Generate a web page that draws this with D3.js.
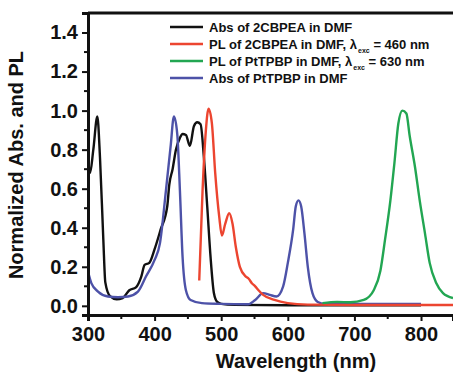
<!DOCTYPE html>
<html>
<head>
<meta charset="utf-8">
<script src="https://cdn.jsdelivr.net/npm/d3@7"></script>
<style>
  body { margin: 0; background: #fff; }
  text { font-family: "Liberation Sans", Arial, sans-serif; font-weight: bold; fill: #111; }
</style>
</head>
<body>
<div id="chart"></div>
<script>
// Abs of 2CBPEA in DMF (black)
const absCbpeaX = [300, 303, 308, 314, 318, 323, 326, 333, 343, 352, 362, 372, 380, 385, 392, 400, 409, 419, 422, 427, 432, 438, 442, 447, 453, 459, 464, 469, 474, 479, 484, 489, 494, 500, 520, 600, 700, 800]
const absCbpeaY = [0.72, 0.68, 0.80, 0.97, 0.76, 0.34, 0.12, 0.05, 0.034, 0.04, 0.08, 0.095, 0.15, 0.21, 0.22, 0.29, 0.39, 0.51, 0.62, 0.70, 0.80, 0.86, 0.88, 0.875, 0.82, 0.92, 0.94, 0.93, 0.76, 0.51, 0.25, 0.066, 0.02, 0.01, 0.005, 0.003, 0.003, 0.003]

// PL of 2CBPEA in DMF (red)
const plCbpeaX = [467, 472, 477, 481, 486, 491, 497, 501, 506, 512, 517, 522, 528, 537, 541, 546, 551, 556, 563, 580, 600, 630, 700, 848]
const plCbpeaY = [0.13, 0.59, 0.90, 1.01, 0.935, 0.68, 0.457, 0.36, 0.42, 0.474, 0.42, 0.30, 0.20, 0.15, 0.14, 0.116, 0.10, 0.08, 0.056, 0.03, 0.014, 0.006, 0.004, 0.004]

// PL of PtTPBP in DMF (green)
const plTpbpX = [652, 674, 694, 714, 729, 739, 746, 754, 760, 766, 772, 778, 783, 791, 798, 806, 813, 823, 833, 848]
const plTpbpY = [0.014, 0.02, 0.018, 0.03, 0.08, 0.18, 0.34, 0.54, 0.73, 0.935, 1.0, 0.985, 0.87, 0.71, 0.54, 0.37, 0.22, 0.116, 0.065, 0.04]

// Abs of PtTPBP in DMF (blue)
const absTpbpX = [300, 305, 315, 330, 345, 360, 375, 387, 400, 408, 417, 424, 429, 434, 438, 442, 447, 454, 471, 500, 540, 551, 563, 573, 583, 593, 600, 608, 612, 616, 620, 625, 630, 637, 645, 655, 700, 800]
const absTpbpY = [0.175, 0.116, 0.073, 0.048, 0.044, 0.048, 0.073, 0.15, 0.235, 0.32, 0.59, 0.815, 0.97, 0.88, 0.59, 0.25, 0.08, 0.03, 0.014, 0.01, 0.008, 0.03, 0.065, 0.056, 0.048, 0.10, 0.22, 0.39, 0.51, 0.54, 0.51, 0.37, 0.20, 0.065, 0.02, 0.01, 0.01, 0.01]

const xTicks = [300, 400, 500, 600, 700, 800]
const yTicks = [0.0, 0.2, 0.4, 0.6, 0.8, 1.0, 1.2, 1.4]

const series = [
  { name: 'Abs of 2CBPEA in DMF', x: absCbpeaX, y: absCbpeaY, color: '#111111' },
  { name: 'PL of 2CBPEA in DMF, λ', sub: 'exc', tail: ' = 460 nm', x: plCbpeaX, y: plCbpeaY, color: '#ec4530' },
  { name: 'PL of PtTPBP in DMF, λ', sub: 'exc', tail: ' = 630 nm', x: plTpbpX, y: plTpbpY, color: '#22a652' },
  { name: 'Abs of PtTPBP in DMF', x: absTpbpX, y: absTpbpY, color: '#4d52a8' }
]

const W = 453, H = 372
const margin = { top: 13, right: 0, bottom: 57, left: 88 }

const svg = d3.select('#chart').append('svg')
  .attr('width', W).attr('height', H)

const x = d3.scaleLinear().domain([300, 848]).range([margin.left, W - margin.right])
const y = d3.scaleLinear().domain([-0.047, 1.5]).range([H - margin.bottom, margin.top])

svg.append('clipPath').attr('id', 'clip')
  .append('rect')
  .attr('x', margin.left).attr('y', margin.top)
  .attr('width', W - margin.left).attr('height', H - margin.bottom - margin.top)

const line = d3.line()
  .x(d => x(d[0]))
  .y(d => y(d[1]))
  .curve(d3.curveMonotoneX)

const plot = svg.append('g').attr('clip-path', 'url(#clip)')
// draw order: black, blue, red, green
;[series[0], series[3], series[1], series[2]].forEach(s => {
  plot.append('path')
    .datum(s.x.map((v, i) => [v, s.y[i]]))
    .attr('fill', 'none')
    .attr('stroke', s.color)
    .attr('stroke-width', 2.4)
    .attr('stroke-linejoin', 'round')
    .attr('d', line)
})

// axes
const xAxis = svg.append('g')
  .attr('transform', 'translate(0,' + (H - margin.bottom) + ')')
  .call(d3.axisBottom(x).tickValues(xTicks).tickSize(6).tickPadding(6).tickFormat(d3.format('d')))
xAxis.append('g').selectAll('line')
  .data(d3.range(350, 850, 100))
  .join('line')
  .attr('x1', d => x(d)).attr('x2', d => x(d))
  .attr('y1', 0).attr('y2', 4)
  .attr('stroke', '#111').attr('stroke-width', 2)

const yAxis = svg.append('g')
  .attr('transform', 'translate(' + margin.left + ',0)')
  .call(d3.axisLeft(y).tickValues(yTicks).tickSize(6).tickPadding(4).tickFormat(d3.format('.1f')))
yAxis.append('g').selectAll('line')
  .data(d3.range(0.1, 1.5, 0.2))
  .join('line')
  .attr('x1', 0).attr('x2', -4)
  .attr('y1', d => y(d)).attr('y2', d => y(d))
  .attr('stroke', '#111').attr('stroke-width', 2)

svg.selectAll('.domain').attr('stroke', '#111').attr('stroke-width', 3)
svg.selectAll('.tick line').attr('stroke', '#111').attr('stroke-width', 2)
svg.selectAll('.tick text')
  .attr('font-size', 20).attr('font-weight', 'bold')
  .attr('font-family', '"Liberation Sans", Arial, sans-serif').attr('fill', '#111')

// top frame line
svg.append('line')
  .attr('x1', margin.left).attr('x2', W)
  .attr('y1', margin.top).attr('y2', margin.top)
  .attr('stroke', '#111').attr('stroke-width', 3)

// axis titles
svg.append('text')
  .attr('x', 296).attr('y', 368)
  .attr('text-anchor', 'middle')
  .attr('font-size', 20)
  .text('Wavelength (nm)')

svg.append('text')
  .attr('transform', 'translate(23,165) rotate(-90)')
  .attr('text-anchor', 'middle')
  .attr('font-size', 20)
  .text('Normalized Abs. and PL')

// legend
const legend = svg.append('g').attr('transform', 'translate(170,27)')
series.forEach((s, i) => {
  const g = legend.append('g').attr('transform', 'translate(0,' + (i * 17) + ')')
  g.append('line')
    .attr('x1', 0).attr('x2', 33)
    .attr('stroke', s.color).attr('stroke-width', 2.4)
  const t = g.append('text')
    .attr('x', 39).attr('y', 4.5)
    .attr('font-size', 13)
  t.append('tspan').text(s.name)
  if (s.sub) {
    t.append('tspan').attr('dx', 1).attr('dy', 4).attr('font-size', 7).text(s.sub)
    t.append('tspan').attr('dy', -4).text(s.tail)
  }
})
</script>
</body>
</html>
